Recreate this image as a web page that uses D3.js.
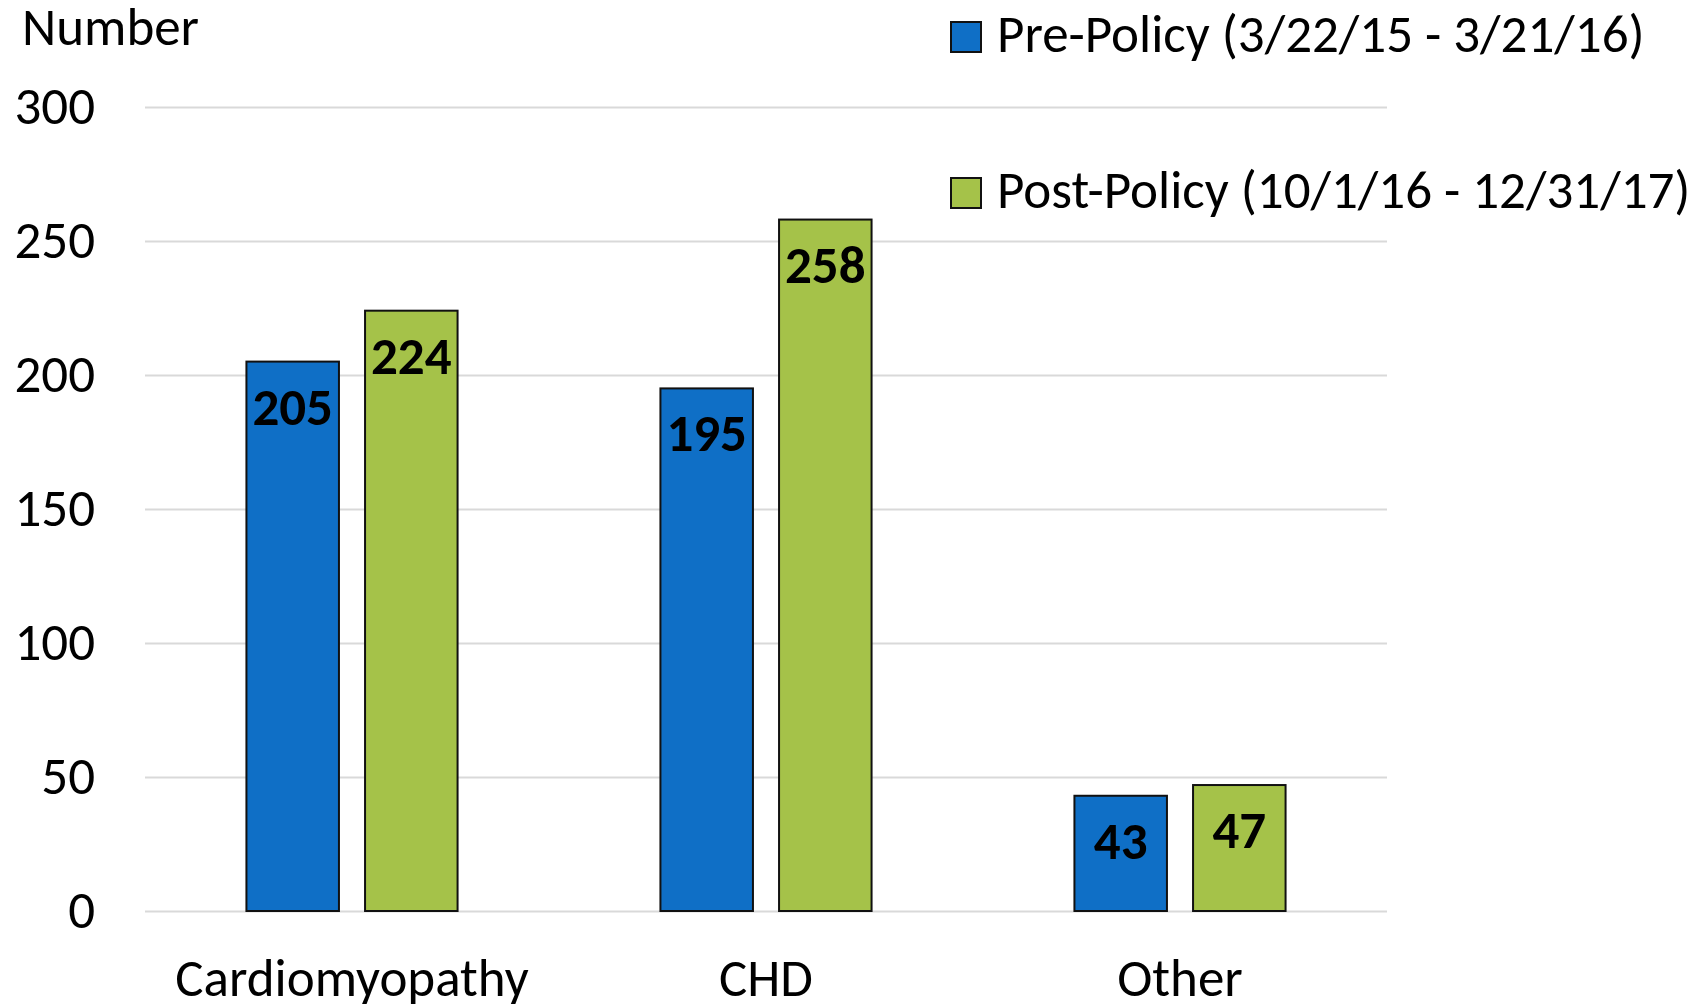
<!DOCTYPE html>
<html>
<head>
<meta charset="utf-8">
<script src="https://cdn.jsdelivr.net/npm/d3@7"></script>
<style>
  html, body { margin: 0; padding: 0; background: #fff; }
  svg text { font-family: Carlito, Calibri, Lato, sans-serif; fill: #000; }
</style>
</head>
<body>
<svg id="chart" width="1701" height="1004"></svg>
<script>
// data
var categories = ["Cardiomyopathy", "CHD", "Other"];
var seriesNames = ["Pre-Policy (3/22/15 - 3/21/16)", "Post-Policy (10/1/16 - 12/31/17)"];
var preValues = [205, 195, 43];
var postValues = [224, 258, 47];
var yTicks = [0, 50, 100, 150, 200, 250, 300];
var colors = ["#0F6FC6", "#A5C249"];

var svg = d3.select("#chart");

var rows = categories.map(function(c, i) {
    return { cat: c, vals: [preValues[i], postValues[i]] };
});

// plot box (note: "top" is reserved on window, so use other names)
var plotLeft = 145, plotRight = 1387, plotTop = 107, plotBottom = 911;

var y = d3.scaleLinear().domain([0, 300]).range([plotBottom, plotTop]);

var x0 = d3.scaleBand()
    .domain(categories)
    .range([plotLeft, plotRight])
    .paddingInner(0.49)
    .paddingOuter(0.245);

var x1 = d3.scaleBand()
    .domain([0, 1])
    .range([0, x0.bandwidth()])
    .paddingInner(0.22);

// gridlines + tick labels
var yAxis = d3.axisLeft(y)
    .tickValues(yTicks)
    .tickSize(-(plotRight - plotLeft))
    .tickPadding(50);

var gy = svg.append("g")
    .attr("transform", "translate(" + plotLeft + ",0)")
    .call(yAxis);
gy.select(".domain").remove();
gy.selectAll(".tick line")
    .attr("stroke", "#d9d9d9")
    .attr("stroke-width", 2);
gy.selectAll(".tick text")
    .attr("font-size", 53)
    .attr("dy", "0.32em")
    .attr("fill", "#000");
gy.attr("font-family", null).attr("font-size", null);

svg.append("text")
    .attr("x", 22)
    .attr("y", 45)
    .attr("font-size", 53)
    .text("Number");

// bars
var groups = svg.append("g").selectAll("g")
    .data(rows)
    .join("g")
    .attr("transform", function(d) { return "translate(" + x0(d.cat) + ",0)"; });

groups.selectAll("rect")
    .data(function(d) { return d.vals.map(function(v, k) { return { k: k, v: v }; }); })
    .join("rect")
    .attr("x", function(d) { return x1(d.k); })
    .attr("y", function(d) { return y(d.v); })
    .attr("width", x1.bandwidth())
    .attr("height", function(d) { return y(0) - y(d.v); })
    .attr("fill", function(d) { return colors[d.k]; })
    .attr("stroke", "#111")
    .attr("stroke-width", 2);

groups.selectAll("text.val")
    .data(function(d) { return d.vals.map(function(v, k) { return { k: k, v: v }; }); })
    .join("text")
    .attr("class", "val")
    .attr("x", function(d) { return x1(d.k) + x1.bandwidth() / 2; })
    .attr("y", function(d) { return y(d.v) + 63; })
    .attr("text-anchor", "middle")
    .attr("font-size", 53)
    .attr("font-weight", "bold")
    .text(function(d) { return d.v; });

// category labels
svg.append("g").selectAll("text")
    .data(categories)
    .join("text")
    .attr("x", function(d) { return x0(d) + x0.bandwidth() / 2; })
    .attr("y", 996)
    .attr("text-anchor", "middle")
    .attr("font-size", 53)
    .text(function(d) { return d; });

// legend
var legend = svg.append("g").selectAll("g")
    .data(seriesNames)
    .join("g")
    .attr("transform", function(d, i) { return "translate(951," + (22 + i * 156) + ")"; });

legend.append("rect")
    .attr("width", 30)
    .attr("height", 30)
    .attr("fill", function(d, i) { return colors[i]; })
    .attr("stroke", "#111")
    .attr("stroke-width", 2);

legend.append("text")
    .attr("x", 46)
    .attr("y", 30)
    .attr("font-size", 53)
    .text(function(d) { return d; });
</script>
</body>
</html>
